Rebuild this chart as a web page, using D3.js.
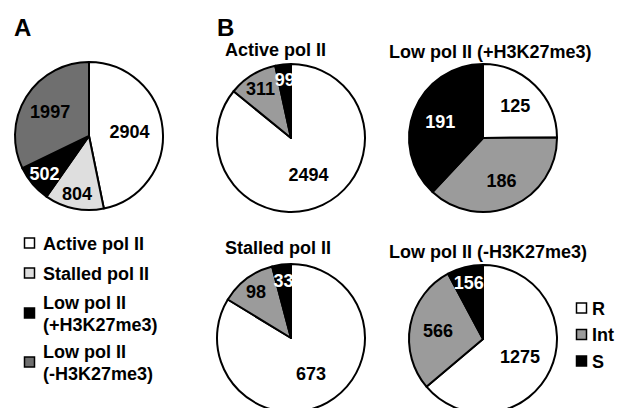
<!DOCTYPE html>
<html>
<head>
<meta charset="utf-8">
<script src="https://cdnjs.cloudflare.com/ajax/libs/d3/7.8.5/d3.min.js"></script>
<style>
  body { margin: 0; background: #fff; }
  text { font-family: "Liberation Sans", Arial, sans-serif; font-weight: bold; }
</style>
</head>
<body>
<svg></svg>
<script>
// Panel A data
const groupsA = ['Active pol II', 'Stalled pol II', 'Low pol II (+H3K27me3)', 'Low pol II (-H3K27me3)']
const countsA = [2904, 804, 502, 1997]

// Panel B data (R / Int / S per group)
const classesB = ['R', 'Int', 'S']
const activeB = [2494, 311, 99]
const stalledB = [673, 98, 33]
const lowPlusB = [125, 186, 191]
const lowMinusB = [1275, 566, 156]

// Canvas setup
let svg = d3.select('svg')
let width = 624
let height = 408
svg.attr('width', width).attr('height', height)

let colorA = d3.scaleOrdinal().domain(groupsA).range(['#ffffff', '#dedede', '#000000', '#6f6f6f'])
let colorB = d3.scaleOrdinal().domain(classesB).range(['#ffffff', '#9b9b9b', '#000000'])

let radius = 74
let pie = d3.pie().sort(null).value((d) => d.value)
let arc = d3.arc().innerRadius(0).outerRadius(radius)

// Draw one pie with its numbers
const drawPie = (cx, cy, keys, values, color) => {
    let data = keys.map((k, i) => ({ key: k, value: values[i] }))
    let total = d3.sum(values)
    let g = svg.append('g').attr('transform', 'translate(' + cx + ',' + cy + ')')

    g.selectAll('path')
        .data(pie(data))
        .enter()
        .append('path')
        .attr('d', arc)
        .attr('fill', (d) => color(d.data.key))
        .attr('stroke', '#000')
        .attr('stroke-width', 2)
        .attr('stroke-linejoin', 'round')

    g.selectAll('text')
        .data(pie(data))
        .enter()
        .append('text')
        .attr('transform', (d) => {
            let share = d.data.value / total
            let f = share > 0.4 ? 0.55 : (share > 0.2 ? 0.62 : 0.79)
            let r = radius * f
            let a = (d.startAngle + d.endAngle) / 2
            return 'translate(' + (Math.sin(a) * r) + ',' + (-Math.cos(a) * r) + ')'
        })
        .attr('text-anchor', 'middle')
        .attr('dy', '0.36em')
        .attr('font-size', 18)
        .attr('fill', (d) => color(d.data.key) === '#000000' ? '#fff' : '#000')
        .text((d) => d.data.value)
}

// Panel letters
svg.append('text').attr('x', 14).attr('y', 36).attr('font-size', 24).text('A')
svg.append('text').attr('x', 217).attr('y', 36).attr('font-size', 24).text('B')

// Panel A
drawPie(89, 136, groupsA, countsA, colorA)

let legendA = [
    { key: groupsA[0], y: 243 },
    { key: groupsA[1], y: 273 },
    { key: groupsA[2], y: 313 },
    { key: groupsA[3], y: 362 }
]
legendA.forEach((d) => {
    svg.append('rect')
        .attr('x', 24.5).attr('y', d.y - 5).attr('width', 10).attr('height', 10)
        .attr('fill', colorA(d.key)).attr('stroke', '#000').attr('stroke-width', 1.5)
    let parts = d.key.split(' (')
    let t = svg.append('text').attr('x', 43).attr('font-size', 18)
    if (parts.length > 1) {
        t.append('tspan').attr('x', 43).attr('y', d.y - 4).text(parts[0])
        t.append('tspan').attr('x', 43).attr('y', d.y + 18).text('(' + parts[1])
    } else {
        t.attr('y', d.y + 6.5).text(d.key)
    }
})

// Panel B
let panelsB = [
    { title: groupsA[0], values: activeB, cx: 291, cy: 138, tx: 225, ty: 56 },
    { title: groupsA[2], values: lowPlusB, cx: 483, cy: 138, tx: 389, ty: 58 },
    { title: groupsA[1], values: stalledB, cx: 291, cy: 338, tx: 225, ty: 254 },
    { title: groupsA[3], values: lowMinusB, cx: 483, cy: 339, tx: 389, ty: 258 }
]
panelsB.forEach((p) => {
    svg.append('text').attr('x', p.tx).attr('y', p.ty).attr('font-size', 18).text(p.title)
    drawPie(p.cx, p.cy, classesB, p.values, colorB)
})

let legendB = svg.append('g').attr('transform', 'translate(576,308)')
legendB.selectAll('rect')
    .data(classesB)
    .enter()
    .append('rect')
    .attr('x', 0.5)
    .attr('y', (d, i) => i * 26.5 - 5)
    .attr('width', 10)
    .attr('height', 10)
    .attr('fill', (d) => colorB(d))
    .attr('stroke', '#000')
    .attr('stroke-width', 1.5)
legendB.selectAll('text')
    .data(classesB)
    .enter()
    .append('text')
    .attr('x', 16)
    .attr('y', (d, i) => i * 26.5 + 6.5)
    .attr('font-size', 18)
    .text((d) => d)
</script>
</body>
</html>
